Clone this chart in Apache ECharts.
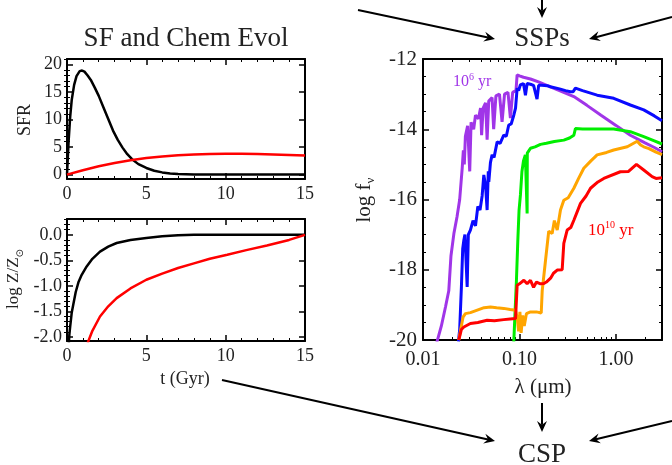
<!DOCTYPE html>
<html><head><meta charset="utf-8">
<script src="https://cdn.jsdelivr.net/npm/echarts@6/dist/echarts.min.js"></script>
<style>html,body{margin:0;padding:0;background:#fff}#c{width:672px;height:465px}</style>
</head><body><div id="c"></div>
<script>
// ---------- Data: star formation history ----------
const tSfrBlack = [0,0.1,0.2,0.3,0.45,0.6,0.8,0.95,1.1,1.3,1.5,1.75,2.0,2.3,2.6,2.9,3.2,3.5,3.8,4.1,4.5,5.0,5.5,6.0,6.5,7.0,8.0,10,15];
const sfrBlack  = [0,6.0,10.5,13.6,16.3,17.9,18.8,18.9,18.7,18.0,17.2,15.8,14.3,12.2,10.1,8.0,6.3,4.9,3.7,2.8,1.9,1.2,0.7,0.4,0.2,0.1,0.03,0,0];
const tSfrRed   = [0,1,2,3,4,5,6,7,8,9,10,11,12,13,14,15];
const sfrRed    = [0,0.8,1.5,2.1,2.6,3.0,3.3,3.5,3.65,3.75,3.78,3.77,3.72,3.65,3.55,3.45];
// ---------- Data: metallicity ----------
const tZBlack = [0.1,0.15,0.2,0.3,0.4,0.55,0.72,0.9,1.24,1.6,2.08,2.6,3.13,4.0,5.0,6.0,7.0,8.0,15];
const zBlack  = [-2.2,-1.95,-1.8,-1.52,-1.36,-1.12,-0.93,-0.8,-0.62,-0.47,-0.33,-0.23,-0.16,-0.1,-0.06,-0.03,-0.01,0,0];
const tZRed   = [1.3,1.6,2.08,2.6,3.13,4.0,5.0,6.0,7.0,8.0,9.0,10.1,11.3,12.6,14,15];
const zRed    = [-2.12,-1.88,-1.6,-1.4,-1.24,-1.05,-0.88,-0.76,-0.65,-0.56,-0.47,-0.39,-0.3,-0.21,-0.1,0.0];
// ---------- Data: SSP spectra (lambda in micron, log f_nu) ----------
const lamPurple = [0.0138,0.0155,0.0171,0.0185,0.0195,0.0209,0.0225,0.024,0.0255,0.0262,0.0268,0.0275,0.029,0.0305,0.0315,0.0335,0.035,0.0375,0.0395,0.0405,0.042,0.0445,0.0462,0.048,0.052,0.054,0.057,0.062,0.066,0.07,0.076,0.0805,0.085,0.092,0.0945,0.1,0.11,0.13,0.16,0.2,0.26,0.366,0.5,0.7,1.0,1.41,2.0,2.5,3.0];
const fPurple   = [-20.1,-19.6,-19.06,-18.6,-17.6,-16.97,-16.5,-16.0,-15.1,-14.6,-15.0,-14.2,-13.9,-15.2,-13.8,-14.0,-13.6,-13.7,-13.4,-14.17,-13.4,-13.25,-14.3,-13.2,-13.1,-14.0,-13.05,-13.0,-13.79,-13.0,-12.95,-13.68,-12.95,-12.9,-12.45,-12.48,-12.52,-12.57,-12.66,-12.77,-12.9,-13.07,-13.32,-13.6,-13.89,-14.17,-14.39,-14.52,-14.64];
const lamBlue = [0.0233,0.024,0.025,0.0258,0.0265,0.0272,0.0287,0.0295,0.031,0.033,0.035,0.037,0.039,0.041,0.0427,0.0445,0.0462,0.0475,0.0481,0.05,0.052,0.0545,0.0587,0.063,0.0687,0.073,0.0774,0.082,0.0873,0.091,0.0946,0.098,0.102,0.11,0.1153,0.12,0.13,0.14,0.152,0.158,0.17,0.194,0.209,0.26,0.3,0.337,0.36,0.38,0.45,0.638,0.948,1.41,1.94,2.5,3.0];
const fBlue   = [-20.05,-19.7,-18.5,-17.4,-17.16,-17.0,-18.49,-17.0,-16.87,-16.6,-16.75,-16.2,-16.3,-15.9,-15.3,-15.6,-16.3,-15.2,-15.5,-14.95,-14.73,-14.8,-14.36,-14.4,-14.17,-14.2,-13.88,-13.85,-13.6,-13.4,-12.83,-12.9,-12.74,-12.7,-13.03,-12.7,-12.72,-12.75,-13.14,-12.75,-12.75,-12.76,-12.79,-12.85,-12.9,-12.93,-12.93,-12.83,-12.9,-13.03,-13.12,-13.31,-13.45,-13.62,-13.76];
const lamGreen = [0.0873,0.09,0.093,0.096,0.099,0.1023,0.106,0.11,0.115,0.1195,0.12,0.1205,0.13,0.145,0.165,0.19,0.23,0.288,0.33,0.366,0.38,0.45,0.638,0.948,1.41,1.94,2.5,3.0];
const fGreen   = [-20.05,-19.2,-18.3,-17.2,-16.3,-15.87,-15.21,-14.9,-14.73,-14.7,-16.4,-14.68,-14.54,-14.5,-14.43,-14.4,-14.35,-14.31,-14.25,-14.17,-13.98,-13.99,-13.99,-13.99,-14.07,-14.21,-14.33,-14.42];
const lamOrange = [0.0235,0.0245,0.026,0.0275,0.031,0.0365,0.043,0.05,0.058,0.0687,0.08,0.091,0.095,0.098,0.101,0.104,0.108,0.112,0.118,0.13,0.15,0.168,0.172,0.185,0.201,0.218,0.23,0.246,0.266,0.288,0.32,0.366,0.41,0.464,0.55,0.638,0.8,0.948,1.31,1.66,1.8,1.94,2.2,2.6,3.0];
const fOrange   = [-20.0,-19.72,-19.35,-19.25,-19.22,-19.15,-19.08,-19.06,-19.08,-19.1,-19.13,-19.15,-19.4,-19.75,-19.2,-19.8,-19.3,-19.6,-19.25,-19.2,-19.2,-19.23,-18.6,-17.8,-16.9,-16.97,-16.6,-16.87,-16.3,-16.02,-15.95,-15.68,-15.4,-15.11,-14.9,-14.73,-14.66,-14.59,-14.5,-14.34,-14.45,-14.5,-14.55,-14.65,-14.72];
const lamRed = [0.0235,0.025,0.0265,0.031,0.037,0.0462,0.055,0.0687,0.08,0.091,0.0935,0.0946,0.1,0.111,0.12,0.13,0.14,0.15,0.165,0.179,0.19,0.21,0.225,0.246,0.277,0.288,0.312,0.34,0.366,0.429,0.49,0.545,0.65,0.748,1.11,1.35,1.63,1.94,2.37,2.6,3.0];
const fRed   = [-20.0,-19.7,-19.63,-19.53,-19.5,-19.44,-19.45,-19.42,-19.4,-19.39,-19.35,-18.44,-18.4,-18.3,-18.4,-18.3,-18.5,-18.35,-18.4,-18.39,-18.35,-18.24,-18.1,-18.01,-18.0,-17.25,-16.87,-16.8,-16.59,-16.11,-15.9,-15.68,-15.5,-15.4,-15.21,-15.2,-15.0,-15.16,-15.35,-15.4,-15.38];
// ---------- Tick labels ----------
const tTicks = [0,5,10,15];
const sfrTicks = [0,5,10,15,20];
const zTicks = [-2.0,-1.5,-1.0,-0.5,0.0];
const lamTicks = [0.01,0.1,1];
const fTicks = [-20,-18,-16,-14,-12];
const lamMinor = [0.02,0.03,0.04,0.05,0.06,0.07,0.08,0.09,0.2,0.3,0.4,0.5,0.6,0.7,0.8,0.9,2,3];

const zip = (a,b)=>a.map((v,i)=>[v,b[i]]);
const FONT = 'Liberation Serif';
const sfrMinor = []; for (let v=0; v<=21; v++) if (v%5) sfrMinor.push(v);
const zMinor = []; for (let k=-20; k<=3; k++) if (k%5) zMinor.push(k/10);

const line = {show:true,onZero:false,lineStyle:{color:'#000',width:2}};
function axis(o){
  return Object.assign({
    type:'value', axisLine:line, splitLine:{show:false},
    axisTick:{inside:true,length:6,lineStyle:{color:'#000',width:1.5}},
    axisLabel:{show:false}
  }, o);
}
const lab = (sz, fmt, cv, margin)=>({show:true,fontFamily:FONT,fontSize:sz,color:'#222',margin:margin,formatter:fmt,customValues:cv});
const majTick = cv=>({inside:true,length:6,lineStyle:{color:'#000',width:1.5},customValues:cv});
const minTick = cv=>({inside:true,length:3,lineStyle:{color:'#000',width:1},customValues:cv});
const tMinor = {show:true,splitNumber:5,length:3,lineStyle:{color:'#000',width:1}};

const xAxis = [
  axis({gridIndex:0,position:'bottom',min:0,max:15,interval:5,minorTick:tMinor,axisLabel:lab(18,v=>String(v),tTicks,6)}),
  axis({gridIndex:0,position:'top',min:0,max:15,interval:5,minorTick:tMinor}),
  axis({gridIndex:1,position:'bottom',min:0,max:15,interval:5,minorTick:tMinor,axisLabel:lab(18,v=>String(v),tTicks,6)}),
  axis({gridIndex:1,position:'top',min:0,max:15,interval:5,minorTick:tMinor}),
  axis({gridIndex:2,type:'log',logBase:10,position:'bottom',min:0.01,max:3,axisTick:majTick(lamTicks),axisLabel:lab(20,v=>Number(v).toFixed(2),lamTicks,10)}),
  axis({gridIndex:2,type:'log',logBase:10,position:'top',min:0.01,max:3,axisTick:majTick(lamTicks)}),
  axis({gridIndex:2,type:'log',logBase:10,position:'bottom',min:0.01,max:3,axisLine:{show:false},axisTick:minTick(lamMinor)}),
  axis({gridIndex:2,type:'log',logBase:10,position:'top',min:0.01,max:3,axisLine:{show:false},axisTick:minTick(lamMinor)})
];
const yAxis = [
  axis({gridIndex:0,position:'left',min:-0.8,max:21,axisTick:majTick(sfrTicks),axisLabel:lab(18,v=>String(v),sfrTicks,5)}),
  axis({gridIndex:0,position:'right',min:-0.8,max:21,axisTick:majTick(sfrTicks)}),
  axis({gridIndex:0,position:'left',min:-0.8,max:21,axisLine:{show:false},axisTick:minTick(sfrMinor)}),
  axis({gridIndex:0,position:'right',min:-0.8,max:21,axisLine:{show:false},axisTick:minTick(sfrMinor)}),
  axis({gridIndex:1,position:'left',min:-2.08,max:0.31,axisTick:majTick(zTicks),axisLabel:lab(18,v=>Number(v).toFixed(1),zTicks,5)}),
  axis({gridIndex:1,position:'right',min:-2.08,max:0.31,axisTick:majTick(zTicks)}),
  axis({gridIndex:1,position:'left',min:-2.08,max:0.31,axisLine:{show:false},axisTick:minTick(zMinor)}),
  axis({gridIndex:1,position:'right',min:-2.08,max:0.31,axisLine:{show:false},axisTick:minTick(zMinor)}),
  axis({gridIndex:2,position:'left',min:-20,max:-12,interval:2,minorTick:{show:true,splitNumber:4,length:3,lineStyle:{color:'#000',width:1}},axisLabel:lab(21,v=>String(v),fTicks,6)}),
  axis({gridIndex:2,position:'right',min:-20,max:-12,interval:2,minorTick:{show:true,splitNumber:4,length:3,lineStyle:{color:'#000',width:1}}})
];

function ser(x,y,data,color,w){
  return {type:'line',xAxisIndex:x,yAxisIndex:y,data:data,showSymbol:false,symbol:'none',
    lineStyle:{color:color,width:w},itemStyle:{color:color},clip:true,animation:false,z:3};
}
const series = [
  ser(0,0,zip(tSfrBlack,sfrBlack),'#000',2.5),
  ser(0,0,zip(tSfrRed,sfrRed),'#ff0000',2.5),
  ser(2,4,zip(tZBlack,zBlack),'#000',2.5),
  ser(2,4,zip(tZRed,zRed),'#ff0000',2.5),
  ser(4,8,zip(lamPurple,fPurple),'#a035e8',3),
  ser(4,8,zip(lamBlue,fBlue),'#0a0aff',3),
  ser(4,8,zip(lamGreen,fGreen),'#00ee00',3),
  ser(4,8,zip(lamOrange,fOrange),'#ffa500',3),
  ser(4,8,zip(lamRed,fRed),'#ff0000',3)
];

function arrow(x1,y1,x2,y2){
  const a=Math.atan2(y2-y1,x2-x1), c=Math.cos(a), s=Math.sin(a);
  const L=11, W=5;
  const bx=x2-L*c, by=y2-L*s, nx=x2-0.65*L*c, ny=y2-0.65*L*s;
  return [
    {type:'line',shape:{x1:x1,y1:y1,x2:nx,y2:ny},style:{stroke:'#000',lineWidth:2},silent:true},
    {type:'polygon',shape:{points:[[x2,y2],[bx+W*s,by-W*c],[nx,ny],[bx-W*s,by+W*c]]},style:{fill:'#000'},silent:true}
  ];
}
const txt = (x,y,text,size,extra)=>Object.assign({type:'text',x:x,y:y,silent:true,
  style:{text:text,fontFamily:FONT,fontSize:size,fill:'#222',align:'center',verticalAlign:'middle'}},extra||{});

const graphic = [].concat(
  arrow(358,10,495,39), arrow(542,0,542,18), arrow(672,17,589,39),
  arrow(222,380,495,441), arrow(542,403,542,432), arrow(672,421,589,441),
  [
    txt(186,39,'SF and Chem Evol',27),
    txt(542,39,'SSPs',27),
    txt(542,455,'CSP',27),
    txt(185,379,'t (Gyr)',18),
    txt(543,387,'λ (μm)',21),
    txt(25,120,'SFR',18,{rotation:Math.PI/2}),
    {type:'text',x:15,y:279,rotation:Math.PI/2,silent:true,style:{text:'{a|log Z/Z}{s|⊙}',align:'center',verticalAlign:'middle',fill:'#222',
      rich:{a:{fontFamily:FONT,fontSize:17,lineHeight:19,verticalAlign:'top',fill:'#222'},s:{fontFamily:'DejaVu Sans',fontSize:10,lineHeight:10,padding:[11,0,0,0],fill:'#222'}}}},
    {type:'text',x:365,y:200,rotation:Math.PI/2,silent:true,style:{text:'{a|log f}{s|ν}',align:'center',verticalAlign:'middle',fill:'#222',
      rich:{a:{fontFamily:FONT,fontSize:21,lineHeight:23,verticalAlign:'top',fill:'#222'},s:{fontFamily:FONT,fontSize:13,lineHeight:13,padding:[12,0,0,0],fill:'#222'}}}},
    {type:'text',x:453,y:81,silent:true,style:{text:'{a|10}{s|6}{a| yr}',align:'left',verticalAlign:'middle',
      rich:{a:{fontFamily:FONT,fontSize:16,lineHeight:18,verticalAlign:'bottom',fill:'#a035e8'},s:{fontFamily:FONT,fontSize:10,lineHeight:10,verticalAlign:'top',fill:'#a035e8'}}}},
    {type:'text',x:588,y:230,silent:true,style:{text:'{a|10}{s|10}{a| yr}',align:'left',verticalAlign:'middle',
      rich:{a:{fontFamily:FONT,fontSize:17,lineHeight:19,verticalAlign:'bottom',fill:'#ff0000'},s:{fontFamily:FONT,fontSize:10,lineHeight:10,verticalAlign:'top',fill:'#ff0000'}}}}
  ]
);

const chart = echarts.init(document.getElementById('c'),null,{renderer:'canvas'});
chart.setOption({
  animation:false,
  backgroundColor:'#fff',
  grid:[
    {left:67,top:59,width:238,height:120},
    {left:67,top:219,width:238,height:122},
    {left:423,top:59,width:239,height:281}
  ],
  xAxis:xAxis, yAxis:yAxis, series:series, graphic:graphic
});
</script></body></html>
